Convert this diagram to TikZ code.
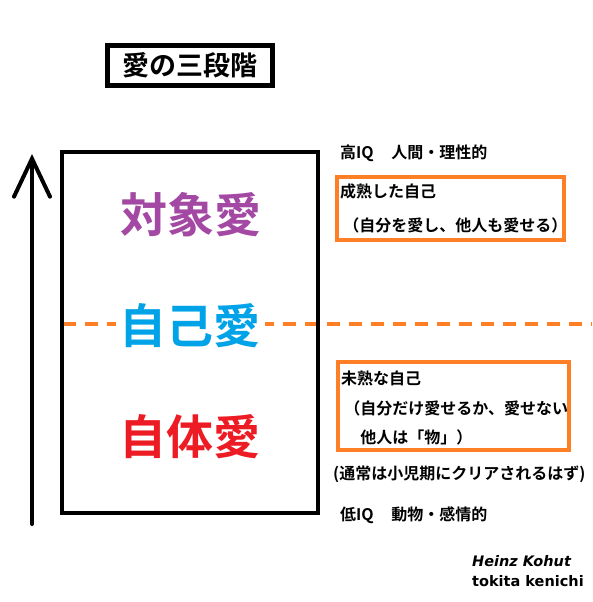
\documentclass[tikz,border=0pt]{standalone}
\usepackage{fontspec}
\setmainfont{Noto Sans CJK JP}[BoldFont={* Bold}]
\newfontfamily\latinfont{DejaVu Sans}
\usetikzlibrary{arrows.meta}
\definecolor{stagepurple}{HTML}{A349A4}
\definecolor{stageblue}{HTML}{00A2E8}
\definecolor{stagered}{HTML}{ED1C24}
\definecolor{noteorange}{HTML}{FF7F27}
\begin{document}
\begin{tikzpicture}[
	x=1pt, y=-1pt,
	stage/.style={ font=\bfseries\fontsize{47}{47}\selectfont, inner sep=4pt },
	note/.style={ anchor=west, inner sep=0pt, font=\bfseries\fontsize{16}{16}\selectfont },
	notebox/.style={ draw=noteorange, line width=4pt, inner sep=0pt }
]
\useasboundingbox (0,0) rectangle (593,602);

\node at (190,65.5) (title) [draw, line width=5pt, minimum width=165pt, minimum height=40pt,
	font=\bfseries\fontsize{27}{27}\selectfont] {愛の三段階};

\coordinate (lowend) at (32,524);
\coordinate (highend) at (32,154);
\draw[line width=4pt, line cap=round,
	-{Straight Barb[length=38pt, width=36pt, line cap=round]}] (lowend) -- (highend);

\coordinate (dashstart) at (63,324);
\coordinate (dashend) at (592,324);
\draw[noteorange, line width=4pt, dash pattern=on 13pt off 9pt] (dashstart) -- (dashend);

\node at (190,332.5) (stages) [draw, line width=4pt, minimum width=256pt, minimum height=361pt] {};

\node at (191,215) (object) [stage, text=stagepurple] {対象愛};
\node at (190,326) (self) [stage, text=stageblue, fill=white] {自己愛};
\node at (190,437) (auto) [stage, text=stagered] {自体愛};

\node at (340,153) (high) [note] {高IQ\hspace{1.1em}人間・理性的};

\node at (450.5,208.5) (mature) [notebox, minimum width=227pt, minimum height=63pt] {};
\node at (340,191) (maturea) [note] {成熟した自己};
\node at (340,225) (matureb) [note] {\hspace{0.2em}（自分を愛し、他人も愛せる）};

\node at (453.5,406) (immature) [notebox, minimum width=231pt, minimum height=88pt] {};
\node at (341,378) (immaturea) [note] {未熟な自己};
\node at (341,408) (immatureb) [note] {\hspace{0.2em}（自分だけ愛せるか、愛せない};
\node at (357,437) (immaturec) [note] {\hspace{0.2em}他人は「物」）};

\node at (333,474) (childhood) [note] {(通常は小児期にクリアされるはず)};

\node at (340,515) (low) [note] {低IQ\hspace{1.1em}動物・感情的};

\node at (472,561) (theorist) [note, font=\latinfont\bfseries\itshape\fontsize{14.5}{15}\selectfont] {Heinz Kohut};
\node at (472,581) (author) [note, font=\latinfont\bfseries\fontsize{14.5}{15}\selectfont] {tokita kenichi};

\end{tikzpicture}
\end{document}
